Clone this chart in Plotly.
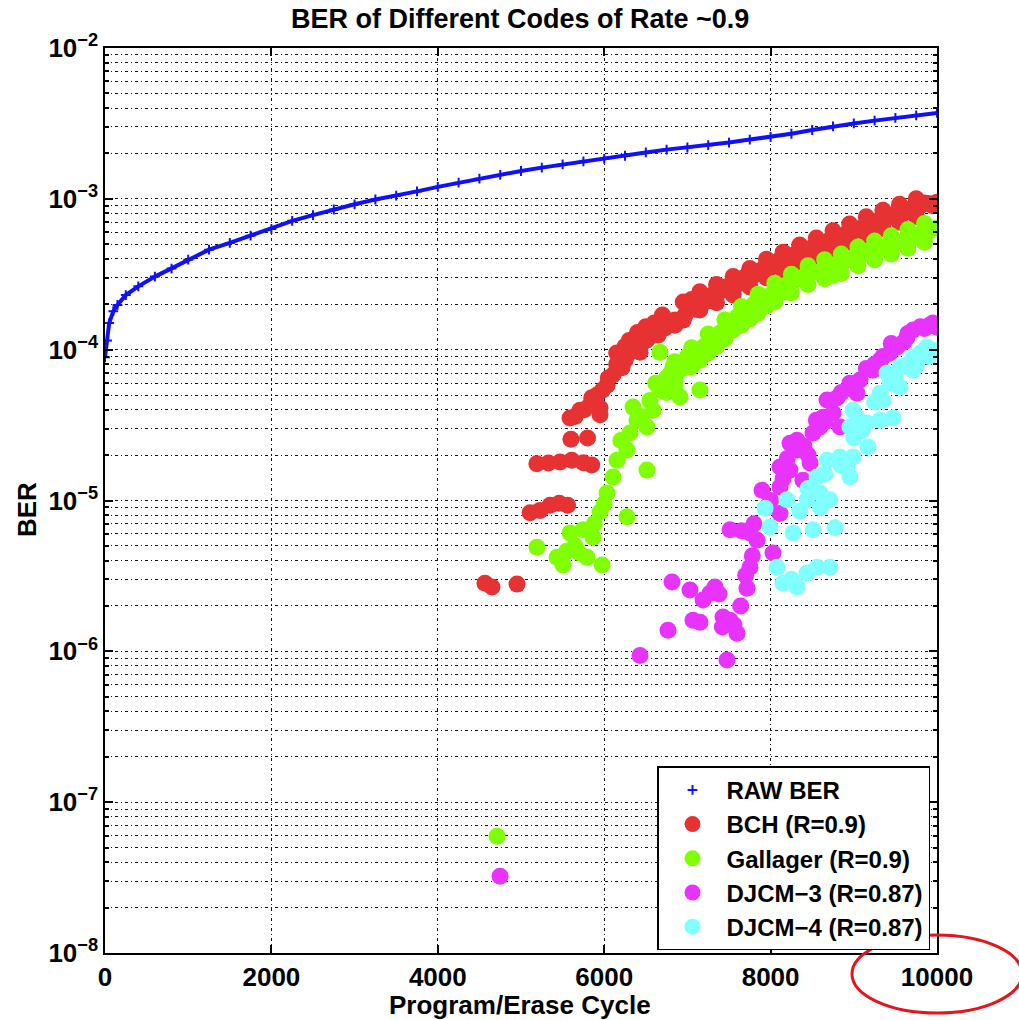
import plotly.graph_objects as go

# ---------------- data ----------------
raw_x = [0, 25, 50, 100, 150, 250, 400, 600, 800, 1000, 1250, 1500, 1750, 2000,
         2250, 2500, 2750, 3000, 3250, 3500, 3750, 4000, 4250, 4500, 4750, 5000,
         5250, 5500, 5750, 6000, 6250, 6500, 6750, 7000, 7250, 7500, 7750, 8000,
         8250, 8500, 8750, 9000, 9250, 9500, 9750, 10000]
raw_ber = [8.9e-5, 1.15e-4, 1.5e-4, 1.8e-4, 1.98e-4, 2.3e-4, 2.63e-4, 3.05e-4,
           3.45e-4, 3.95e-4, 4.6e-4, 5.1e-4, 5.7e-4, 6.3e-4, 7.15e-4, 7.8e-4,
           8.5e-4, 9.2e-4, 9.9e-4, 1.05e-3, 1.12e-3, 1.2e-3, 1.28e-3, 1.36e-3,
           1.44e-3, 1.53e-3, 1.61e-3, 1.69e-3, 1.77e-3, 1.84e-3, 1.93e-3, 2.03e-3,
           2.12e-3, 2.19e-3, 2.27e-3, 2.36e-3, 2.47e-3, 2.57e-3, 2.7e-3, 2.86e-3,
           3.02e-3, 3.16e-3, 3.3e-3, 3.44e-3, 3.58e-3, 3.71e-3]

bch_x = [4567, 4651, 4952,
         5110, 5230, 5350, 5460, 5560,
         5190, 5330, 5470, 5610, 5750, 5850,
         5600, 5800,
         5589, 5709, 5829, 5950, 5913, 6034, 6106, 6214, 6274, 6334, 6430, 6514,
         6611, 6731, 6851, 6971, 7091,
         5650, 5760, 5850, 5950, 5980, 6050, 6150, 6250, 6300, 6350, 6450, 6550,
         6650, 6750, 6850,
         7000, 7050, 7100, 7200, 7250, 7300, 7400, 7450, 7500, 7600, 7650, 7700,
         7800, 7850, 7900, 8000, 8050, 8100, 8200, 8250, 8300, 8400, 8450, 8500,
         8600, 8650, 8700, 8800, 8850, 8900, 9000, 9050, 9100, 9200, 9250, 9300,
         9400, 9450, 9500, 9600, 9650, 9700, 9800, 9850, 9900, 9950, 10000,
         6950, 7150, 7350, 7550, 7750, 7950, 8150, 8350, 8550, 8750, 8950, 9150,
         9350, 9550, 9750,
         6950, 7150, 7350, 7550, 7750, 7950, 8150, 8350, 8550, 8750, 8950, 9150,
         9350, 9550, 9750,
         6150, 6250, 6400, 6500, 6600, 6700]
bch_ber = [2.83e-6, 2.67e-6, 2.79e-6,
           8.3e-6, 8.6e-6, 9.3e-6, 9.6e-6, 9.3e-6,
           1.75e-5, 1.77e-5, 1.8e-5, 1.85e-5, 1.78e-5, 1.72e-5,
           2.55e-5, 2.6e-5,
           3.52e-5, 3.97e-5, 4.29e-5, 4.1e-5, 5.0e-5, 5.8e-5, 6.8e-5, 7.6e-5,
           9.2e-5, 1.07e-4, 9.6e-5, 1.16e-4, 1.25e-4, 1.39e-4, 1.57e-4, 1.69e-4,
           1.89e-4,
           3.6e-5, 4.0e-5, 4.8e-5, 3.7e-5, 5.4e-5, 6.5e-5, 8.0e-5, 8.5e-5, 1.15e-4,
           1.0e-4, 1.1e-4, 1.3e-4, 1.25e-4, 1.5e-4, 1.45e-4,
           1.95e-4, 2.15e-4, 1.85e-4, 2.2e-4, 2.1e-4, 2.3e-4, 2.45e-4, 2.6e-4,
           2.55e-4, 2.7e-4, 2.85e-4, 3.05e-4, 3.1e-4, 3.3e-4, 3.4e-4, 3.5e-4,
           3.7e-4, 3.9e-4, 3.95e-4, 4.2e-4, 4.3e-4, 4.4e-4, 4.6e-4, 4.75e-4,
           4.95e-4, 5.1e-4, 5.3e-4, 5.4e-4, 5.7e-4, 5.8e-4, 6.1e-4, 6.3e-4,
           6.4e-4, 6.9e-4, 6.8e-4, 7.2e-4, 7.5e-4, 7.8e-4, 7.9e-4, 8.3e-4,
           8.2e-4, 8.7e-4, 9.0e-4, 9.4e-4, 9.3e-4, 9.0e-4, 9.5e-4,
           2.07e-4, 2.42e-4, 2.7e-4, 3.05e-4, 3.45e-4, 3.97e-4, 4.43e-4, 4.95e-4,
           5.5e-4, 6.15e-4, 6.8e-4, 7.6e-4, 8.4e-4, 9.2e-4, 1.0e-3,
           1.57e-4, 1.83e-4, 2.05e-4, 2.3e-4, 2.6e-4, 3.0e-4, 3.35e-4, 3.75e-4,
           4.2e-4, 4.65e-4, 5.15e-4, 5.75e-4, 6.35e-4, 7.0e-4, 7.65e-4,
           9.5e-5, 1.05e-4, 1.3e-4, 1.42e-4, 1.5e-4, 1.7e-4]

gal_x = [4712,
         5192, 5433, 5505, 5589, 5745, 5865, 5793, 5974, 5950, 6274, 6034, 6106,
         6154, 6274, 6514, 6310, 6394, 6346, 6514, 6587, 6670, 6827, 6911, 7151,
         6670,
         5550, 5650, 5700, 5880, 6000, 6200, 6450, 6550, 6620, 6750, 6850,
         6700, 6750, 6800, 6850, 6900, 6950, 7000, 7100, 7150, 7200, 7300, 7350,
         7400, 7500, 7550, 7600, 7700, 7750, 7800, 7900, 7950, 8000, 8100, 8150,
         8200, 8300, 8400, 8500, 8600, 8700, 8750, 8800, 8900, 9000, 9100, 9200,
         9300, 9400, 9500, 9600, 9700, 9800, 9900, 10000,
         6850, 7050, 7250, 7450, 7650, 7850, 8050, 8250, 8450, 8650, 8850, 9050,
         9250, 9450, 9650, 9850,
         6850, 7050, 7250, 7450, 7650, 7850, 8050, 8250, 8450, 8650, 8850, 9050,
         9250, 9450, 9650, 9850]
gal_ber = [5.95e-8,
           4.9e-6, 4.2e-6, 3.73e-6, 6.1e-6, 6.4e-6, 5.7e-6, 4.2e-6, 3.73e-6,
           8.4e-6, 7.8e-6, 1.12e-5, 1.43e-5, 1.85e-5, 2.16e-5, 1.59e-5, 2.8e-5,
           3.41e-5, 4.16e-5, 3.07e-5, 3.97e-5, 5.4e-5, 7.7e-5, 4.85e-5, 5.4e-5,
           9.6e-5,
           4.6e-6, 5.0e-6, 4.5e-6, 7.0e-6, 9.5e-6, 2.5e-5, 3.6e-5, 4.6e-5, 6.0e-5,
           6.5e-5, 5.8e-5,
           6.0e-5, 5.2e-5, 7.0e-5, 6.5e-5, 8.0e-5, 7.5e-5, 9.0e-5, 9.8e-5, 8.5e-5,
           1.05e-4, 1.18e-4, 1.05e-4, 1.3e-4, 1.45e-4, 1.35e-4, 1.65e-4, 1.8e-4,
           1.6e-4, 2.0e-4, 2.1e-4, 1.95e-4, 2.3e-4, 2.55e-4, 2.4e-4, 2.7e-4,
           2.9e-4, 3.05e-4, 3.25e-4, 3.3e-4, 3.5e-4, 3.1e-4, 3.7e-4, 3.9e-4,
           4.1e-4, 4.3e-4, 4.5e-4, 4.6e-4, 4.9e-4, 5.1e-4, 5.3e-4, 5.5e-4, 5.8e-4,
           6.1e-4, 6.4e-4,
           8.3e-5, 1.03e-4, 1.27e-4, 1.58e-4, 1.93e-4, 2.33e-4, 2.76e-4, 3.16e-4,
           3.6e-4, 3.95e-4, 4.3e-4, 4.8e-4, 5.25e-4, 5.7e-4, 6.25e-4, 6.85e-4,
           6.2e-5, 7.7e-5, 9.5e-5, 1.18e-4, 1.45e-4, 1.75e-4, 2.07e-4, 2.38e-4,
           2.7e-4, 2.95e-4, 3.2e-4, 3.6e-4, 3.95e-4, 4.3e-4, 4.7e-4, 5.15e-4]

dj3_x = [4748,
         6430, 6767, 6815, 7031, 7188, 7272, 7332, 7067, 7151, 7428, 7512, 7596,
         7476, 7716, 7752, 7837, 8029, 7512, 7752, 7897, 8113, 8113, 8233, 8317,
         8389, 8474, 8317, 8510, 8594, 8630, 8678, 8750, 8834, 8954, 9038, 9075,
         9231, 9315, 9435, 9519, 9639, 9712, 9916, 10000, 8113, 8233,
         7380, 7560, 7640, 7420, 7700, 7780,
         7650, 7800, 7950, 8000, 8150, 8200, 8400, 8450, 8550, 8650, 8800, 8850,
         9000, 9150, 9250, 9350, 9450, 9600, 9650, 9800, 9850, 9950]
dj3_ber = [3.23e-8,
           9.4e-7, 1.38e-6, 2.88e-6, 2.55e-6, 2.19e-6, 2.43e-6, 2.67e-6, 1.61e-6,
           1.56e-6, 1.69e-6, 1.61e-6, 1.32e-6, 8.75e-7, 2.62e-6, 3.61e-6, 5.45e-6,
           4.48e-6, 6.4e-6, 6.1e-6, 1.17e-5, 1.23e-5, 8.2e-6, 1.59e-5, 2.16e-5,
           1.36e-5, 1.77e-5, 2.51e-5, 2.8e-5, 3.07e-5, 3.57e-5, 4.63e-5, 3.8e-5,
           3.07e-5, 6.0e-5, 5.15e-5, 6.3e-5, 7.3e-5, 8.5e-5, 9.5e-5, 1.04e-4,
           1.21e-4, 1.35e-4, 1.46e-4, 1.41e-4, 1.67e-5, 2.4e-5,
           2.4e-6, 1.5e-6, 2.0e-6, 1.45e-6, 3.2e-6, 4.3e-6,
           6.3e-6, 7.0e-6, 9.0e-6, 1.0e-5, 1.4e-5, 1.9e-5, 2.3e-5, 2.0e-5, 3.4e-5,
           3.3e-5, 4.8e-5, 5.2e-5, 5.8e-5, 7.5e-5, 8.0e-5, 9.0e-5, 1.1e-4, 1.12e-4,
           1.28e-4, 1.42e-4, 1.38e-4, 1.5e-4]

dj4_x = [7933, 7993, 8077, 8149, 8317, 8438, 8558, 8714, 8269, 8510, 8774, 8197,
         8438, 8594, 8714, 8558, 8678, 8918, 8954, 8834, 8990, 9171, 8954, 9038,
         9159, 9315, 9471, 8990, 9315, 9435, 9555, 9399, 9555, 9712, 9880, 10000,
         9712,
         9000, 9100, 9250, 9350, 9500, 9650, 9800, 9900, 9750, 8850, 8650, 8450,
         8350, 8600, 8250]
dj4_ber = [8.9e-6, 6.67e-6, 3.61e-6, 2.83e-6, 2.67e-6, 3.3e-6, 3.61e-6, 3.61e-6,
           6.1e-6, 6.4e-6, 6.6e-6, 1.01e-5, 1.01e-5, 1.12e-5, 1.01e-5, 1.43e-5,
           1.85e-5, 1.66e-5, 1.43e-5, 1.94e-5, 1.94e-5, 2.26e-5, 3.07e-5, 3.57e-5,
           3.26e-5, 3.41e-5, 3.52e-5, 3.97e-5, 5.15e-5, 6.0e-5, 5.65e-5, 7.0e-5,
           7.7e-5, 8.9e-5, 1.04e-4, 9.9e-5, 7.3e-5,
           2.6e-5, 2.9e-5, 4.5e-5, 4.6e-5, 6.5e-5, 8.0e-5, 9.5e-5, 9.0e-5, 7.8e-5,
           1.7e-5, 1.5e-5, 1.2e-5, 8.5e-6, 9.0e-6, 3.0e-6]

names = ["RAW BER", "BCH (R=0.9)", "Gallager (R=0.9)", "DJCM\u22123 (R=0.87)", "DJCM\u22124 (R=0.87)"]
x_ticks = [0, 2000, 4000, 6000, 8000, 10000]
y_tick_vals = [1e-8, 1e-7, 1e-6, 1e-5, 1e-4, 1e-3, 1e-2]
y_tick_text = ["10<sup>\u22128</sup>", "10<sup>\u22127</sup>", "10<sup>\u22126</sup>",
               "10<sup>\u22125</sup>", "10<sup>\u22124</sup>", "10<sup>\u22123</sup>",
               "10<sup>\u22122</sup>"]

# ---------------- figure ----------------
FONT = "Arial, Liberation Sans, Helvetica, sans-serif"
fig = go.Figure()

fig.add_trace(go.Scatter(x=raw_x, y=raw_ber, mode="lines", line=dict(color="#1010FF", width=4),
                         showlegend=False, hoverinfo="skip"))
fig.add_trace(go.Scatter(x=raw_x, y=raw_ber, mode="markers", name=names[0], legendgroup="a",
                         marker=dict(symbol="cross-thin", size=7, color="#1010FF",
                                     line=dict(color="#1010FF", width=2))))

for xs, ys, nm, col, grp in [(bch_x, bch_ber, names[1], "#E63232", "b"),
                             (gal_x, gal_ber, names[2], "#80FF00", "c"),
                             (dj3_x, dj3_ber, names[3], "#E833FF", "d"),
                             (dj4_x, dj4_ber, names[4], "#80FFFF", "e")]:
    fig.add_trace(go.Scatter(x=xs, y=ys, mode="markers", name=nm, legendgroup=grp,
                             marker=dict(symbol="circle", size=17, color=col,
                                         line=dict(width=0))))

grid_dash = "3px,3px,1px,3px"
fig.update_layout(
    width=1019, height=1020,
    margin=dict(l=105, r=82, t=48, b=67),
    paper_bgcolor="white", plot_bgcolor="white",
    font=dict(family=FONT, color="black", size=26),
    showlegend=True,
    legend=dict(x=0.9916, y=0.003, xanchor="right", yanchor="bottom",
                bgcolor="white", bordercolor="black", borderwidth=1.5,
                font=dict(family=FONT, size=24, color="black", weight="bold"),
                tracegroupgap=0, itemwidth=58),
    annotations=[
        dict(text="<b>BER of Different Codes of Rate ~0.9</b>", xref="paper", yref="paper",
             x=(520 - 105) / 832, y=(953 - 19) / 905, showarrow=False,
             font=dict(size=27, family=FONT), xanchor="center", yanchor="middle"),
        dict(text="<b>Program/Erase Cycle</b>", xref="paper", yref="paper",
             x=(520 - 105) / 832, y=(953 - 1005) / 905, showarrow=False,
             font=dict(size=26, family=FONT), xanchor="center", yanchor="middle"),
        dict(text="<b>BER</b>", xref="paper", yref="paper",
             x=(27 - 105) / 832, y=(953 - 510) / 905, showarrow=False, textangle=-90,
             font=dict(size=26, family=FONT), xanchor="center", yanchor="middle"),
    ],
    shapes=[
        dict(type="circle", xref="paper", yref="paper",
             x0=(852 - 105) / 832, x1=(1022 - 105) / 832,
             y0=(953 - 1013) / 905, y1=(953 - 935) / 905,
             line=dict(color="#E8141B", width=3), layer="above"),
    ],
)

fig.update_xaxes(range=[0, 10000], tickvals=x_ticks, ticktext=[f"<b>{v}</b>" for v in x_ticks],
                 ticks="inside", ticklen=8, tickwidth=1.5, tickcolor="black",
                 showline=True, linecolor="black", linewidth=1.5, mirror="ticks",
                 showgrid=True, gridcolor="#111", gridwidth=1, griddash=grid_dash,
                 zeroline=False, tickfont=dict(size=26, family=FONT), ticklabelstandoff=0)
fig.update_yaxes(type="log", range=[-8, -2], tickvals=y_tick_vals, ticktext=y_tick_text,
                 ticks="inside", ticklen=8, tickwidth=1.5, tickcolor="black",
                 showline=True, linecolor="black", linewidth=1.5, mirror="ticks",
                 showgrid=True, gridcolor="#111", gridwidth=1, griddash=grid_dash,
                 zeroline=False, tickfont=dict(size=26, family=FONT, weight="bold"),
                 minor=dict(dtick="D1", ticks="inside", ticklen=4, tickcolor="black",
                            showgrid=True, gridcolor="#111", gridwidth=1, griddash=grid_dash))

fig.write_html("out.html")
